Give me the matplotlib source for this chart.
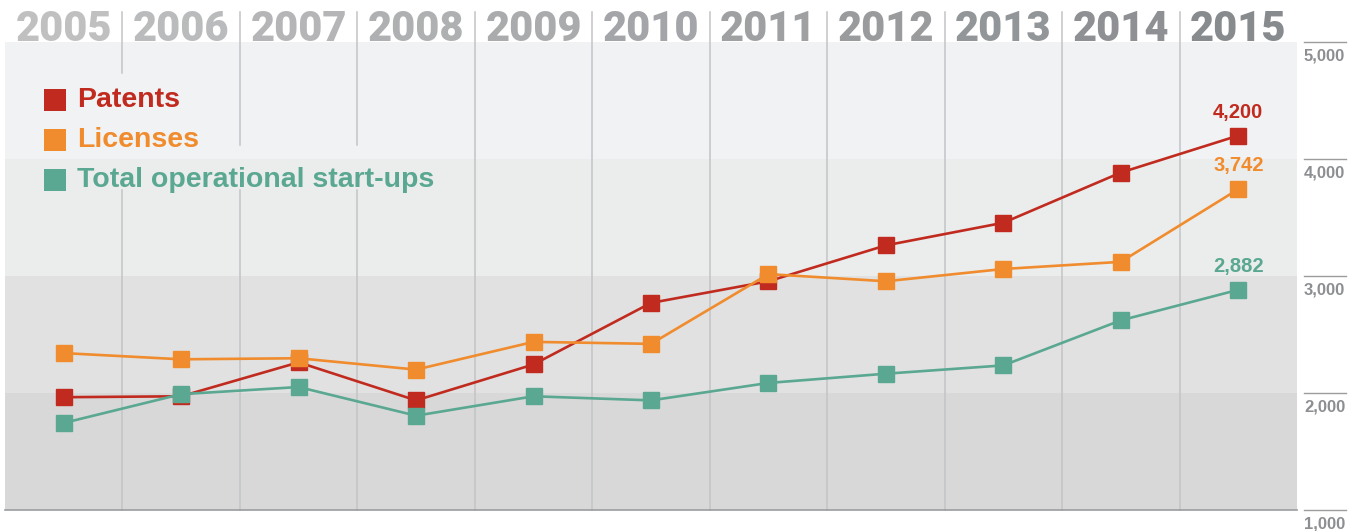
import matplotlib
matplotlib.use("Agg")
import matplotlib.pyplot as plt
import matplotlib.transforms as mtransforms
import numpy as np

# data
years = ["2005", "2006", "2007", "2008", "2009", "2010",
         "2011", "2012", "2013", "2014", "2015"]
patents = [1964, 1972, 2262, 1937, 2244, 2770, 2955, 3262, 3455, 3884, 4200]
licenses = [2341, 2288, 2297, 2200, 2437, 2420, 3016, 2955, 3060, 3121, 3742]
startups = [1744, 1990, 2051, 1806, 1972, 1937, 2086, 2165, 2236, 2621, 2882]
y_ticks = [1000, 2000, 3000, 4000, 5000]

series = [
    ("Patents", patents, "#c12b1f"),
    ("Licenses", licenses, "#f08c2e"),
    ("Total operational start-ups", startups, "#5aa891"),
]

plt.rcParams["font.family"] = ["Liberation Sans", "DejaVu Sans"]
plt.rcParams["font.weight"] = "bold"

W, H = 1359, 531
fig = plt.figure(figsize=(W / 100, H / 100), dpi=100)
# axes box in pixels: x 5..1297, y 42..510
ax = fig.add_axes([5 / W, 1 - 510 / H, 1292 / W, 468 / H])
ax.set_xlim(-0.5, len(years) - 0.5)
ax.set_ylim(1000, 5000)
ax.axis("off")

px_x = lambda p: (p - 5) / 1292.0
px_y = lambda p: (510 - p) / 468.0

# background bands
band_colors = ["#d8d8d8", "#e1e1e1", "#ebecec", "#f1f2f4"]
for i, c in enumerate(band_colors):
    ax.axhspan(y_ticks[i], y_ticks[i + 1], color=c, zorder=0, lw=0)

# vertical separators between the years
xform = mtransforms.blended_transform_factory(ax.transData, ax.transAxes)
top = px_y(12)
for i in range(len(years) - 1):
    xb = i + 0.5
    if i == 0:
        segs = [(px_y(73), top), (0, px_y(190))]
    elif i in (1, 2):
        segs = [(px_y(145), top), (0, px_y(190))]
    else:
        segs = [(0, top)]
    for y0, y1 in segs:
        ax.plot([xb, xb], [y0, y1], color="#c3c4c7", lw=1.1,
                transform=xform, clip_on=False, zorder=1)

# bottom axis line
ax.plot([0, 1], [0, 0], color="#9a9c9e", lw=1.2, transform=ax.transAxes,
        clip_on=False, zorder=2)

# year labels, light to dark
c0 = np.array([0xc0, 0xc0, 0xc1]) / 255.0
c1 = np.array([0x88, 0x8b, 0x8e]) / 255.0
for i, yr in enumerate(years):
    t = i / (len(years) - 1)
    col = c0 + (c1 - c0) * t
    ax.text(i, px_y(41), yr, transform=xform, ha="center", va="baseline",
            fontsize=30, fontweight="black", color=col, zorder=3,
            family=["Roboto", "Liberation Sans"])

# lines
x = np.arange(len(years))
for name, vals, col in series:
    ax.plot(x, vals, color=col, lw=1.9, marker="s", markersize=12,
            markeredgecolor=col, zorder=4)
    ax.annotate(f"{vals[-1]:,}", (x[-1], vals[-1]), xytext=(0, 10),
                textcoords="offset points", ha="center", va="bottom",
                fontsize=14.5, fontweight="bold", color=col, zorder=5)

# legend
for k, (name, vals, col) in enumerate(series):
    yy = px_y(100 + 40 * k)
    ax.scatter([px_x(55)], [yy], marker="s", s=15.5 ** 2, color=col,
               transform=ax.transAxes, zorder=6, linewidths=0)
    ax.text(px_x(77), yy, name, transform=ax.transAxes, ha="left",
            va="center", fontsize=20.5, fontweight="bold", color=col, zorder=6)

# right-hand value scale
yform = mtransforms.blended_transform_factory(ax.transAxes, ax.transData)
for v in y_ticks:
    ax.plot([px_x(1304), px_x(1346)], [v, v], color="#9a9c9e", lw=1.0,
            transform=yform, clip_on=False)
    ax.annotate(f"{v:,}", (px_x(1304), v), xycoords=yform, xytext=(0, -5),
                textcoords="offset points", ha="left", va="top",
                fontsize=12, fontweight="bold", color="#8c8e91",
                annotation_clip=False)

fig.savefig("out.png", dpi=100, facecolor="white")
